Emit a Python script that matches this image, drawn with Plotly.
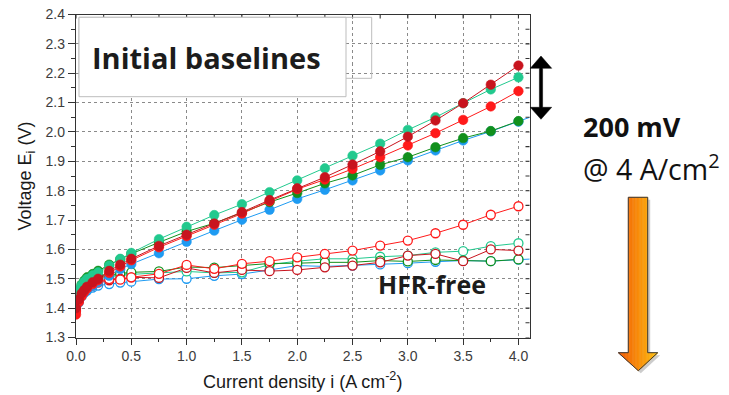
import plotly.graph_objects as go

# Current density steps (A/cm^2)
current = [0.0, 0.025, 0.05, 0.075, 0.1, 0.15, 0.2, 0.3, 0.4, 0.5,
           0.75, 1.0, 1.25, 1.5, 1.75, 2.0, 2.25, 2.5, 2.75, 3.0,
           3.25, 3.5, 3.75, 4.0]
current_ext = current + [4.25]

# Cell voltage (V), initial polarization curves
v_blue = [1.410, 1.430, 1.445, 1.455, 1.463, 1.475, 1.488, 1.510, 1.533, 1.550,
          1.587, 1.626, 1.664, 1.701, 1.735, 1.772, 1.803, 1.835, 1.869, 1.903,
          1.937, 1.971, 2.002, 2.035, 2.070]
v_green = [1.435, 1.460, 1.480, 1.494, 1.505, 1.516, 1.527, 1.548, 1.566, 1.585,
           1.624, 1.661, 1.689, 1.724, 1.761, 1.792, 1.825, 1.852, 1.888, 1.914,
           1.948, 1.979, 2.003, 2.037]
v_teal = [1.440, 1.462, 1.478, 1.490, 1.500, 1.512, 1.522, 1.545, 1.568, 1.588,
          1.635, 1.677, 1.717, 1.754, 1.795, 1.835, 1.876, 1.919, 1.960, 2.007,
          2.050, 2.098, 2.145, 2.186]
v_red = [1.378, 1.420, 1.440, 1.455, 1.467, 1.482, 1.495, 1.520, 1.542, 1.563,
         1.607, 1.645, 1.684, 1.722, 1.764, 1.805, 1.838, 1.874, 1.914, 1.954,
         1.996, 2.041, 2.087, 2.139]
v_darkred = [1.400, 1.430, 1.450, 1.462, 1.473, 1.488, 1.500, 1.527, 1.548, 1.568,
             1.612, 1.650, 1.688, 1.727, 1.768, 1.808, 1.846, 1.889, 1.934, 1.984,
             2.039, 2.098, 2.161, 2.226]

# HFR-free voltages (V)
h_blue = [1.390, 1.420, 1.440, 1.452, 1.460, 1.470, 1.477, 1.482, 1.487, 1.490,
          1.499, 1.500, 1.510, 1.516, 1.530, 1.545, 1.542, 1.545, 1.549, 1.553,
          1.558, 1.562, 1.560, 1.565, 1.570]
h_green = [1.420, 1.450, 1.470, 1.483, 1.490, 1.500, 1.508, 1.513, 1.518, 1.522,
           1.525, 1.540, 1.538, 1.546, 1.552, 1.553, 1.556, 1.556, 1.562, 1.559,
           1.564, 1.562, 1.560, 1.566]
h_teal = [1.420, 1.445, 1.462, 1.475, 1.485, 1.495, 1.503, 1.508, 1.512, 1.515,
          1.520, 1.525, 1.520, 1.522, 1.548, 1.560, 1.568, 1.568, 1.575, 1.579,
          1.590, 1.594, 1.611, 1.621]
h_red = [1.390, 1.425, 1.445, 1.458, 1.467, 1.477, 1.487, 1.499, 1.497, 1.505,
         1.517, 1.547, 1.534, 1.551, 1.560, 1.573, 1.585, 1.596, 1.613, 1.630,
         1.655, 1.684, 1.718, 1.747]
h_darkred = [1.400, 1.430, 1.448, 1.460, 1.470, 1.480, 1.490, 1.495, 1.500, 1.505,
             1.503, 1.537, 1.520, 1.530, 1.526, 1.530, 1.539, 1.545, 1.556, 1.579,
             1.585, 1.560, 1.600, 1.596]

x_ticks = [0.0, 0.5, 1.0, 1.5, 2.0, 2.5, 3.0, 3.5, 4.0]
y_ticks = [1.3, 1.4, 1.5, 1.6, 1.7, 1.8, 1.9, 2.0, 2.1, 2.2, 2.3, 2.4]

BLUE = "#1E9BF2"
GREEN = "#11901C"
TEAL = "#22C98E"
RED = "#FF1A1A"
DARKRED = "#C8141E"

W, H = 729, 395
X0, X1 = 76.0, 529.5     # plot area, pixels
Y0, Y1 = 14.5, 337.5


def px(x):
    return x / W


def py(y):
    return 1 - y / H


fig = go.Figure()

open_series = [
    (current_ext, h_blue, BLUE),
    (current, h_teal, TEAL),
    (current, h_green, GREEN),
    (current, h_darkred, DARKRED),
    (current, h_red, RED),
]
for xs, ys, col in open_series:
    fig.add_trace(go.Scatter(
        x=xs, y=ys, mode="lines+markers",
        line=dict(color=col, width=1),
        marker=dict(symbol="circle", size=9, color="white",
                    line=dict(width=1.3, color=col)),
        showlegend=False, hoverinfo="skip",
    ))

filled_series = [
    (current_ext, v_blue, BLUE),
    (current, v_green, GREEN),
    (current, v_red, RED),
    (current, v_teal, TEAL),
    (current, v_darkred, DARKRED),
]
for xs, ys, col in filled_series:
    fig.add_trace(go.Scatter(
        x=xs, y=ys, mode="lines+markers",
        line=dict(color=col, width=1),
        marker=dict(symbol="circle", size=9.5, color=col,
                    line=dict(width=0.6, color=col)),
        showlegend=False, hoverinfo="skip",
    ))

axis_font = dict(family="Liberation Sans, Arial", size=14, color="#3c3c3c")
title_font = dict(family="Liberation Sans, Arial", size=18, color="#1a1a1a")

fig.update_layout(
    width=W, height=H,
    margin=dict(l=0, r=0, t=0, b=0),
    paper_bgcolor="white", plot_bgcolor="white",
    xaxis=dict(
        domain=[px(X0), px(X1)], range=[0, 4.1], anchor="y",
        tickmode="linear", tick0=x_ticks[0], dtick=x_ticks[1] - x_ticks[0],
        tickformat=".1f",
        ticks="outside", ticklen=6, tickwidth=1.2, tickcolor="#333",
        minor=dict(dtick=0.25, ticks="outside", ticklen=3.5, tickcolor="#333"),
        showgrid=True, gridcolor="#8a8a8a", griddash="dot", gridwidth=1,
        showline=True, linecolor="#333", linewidth=1.3, mirror=True,
        zeroline=False, tickfont=axis_font, automargin=False,
        title=dict(text="Current density i (A cm<sup>-2</sup>)", font=title_font,
                   standoff=11),
    ),
    yaxis=dict(
        domain=[py(Y1), py(Y0)], range=[1.3, 2.4], anchor="x",
        tickmode="linear", tick0=y_ticks[0], dtick=y_ticks[1] - y_ticks[0],
        tickformat=".1f",
        ticks="outside", ticklen=7, tickwidth=1.2, tickcolor="#333",
        minor=dict(dtick=0.05, ticks="outside", ticklen=4, tickcolor="#333"),
        showgrid=True, gridcolor="#8a8a8a", griddash="dot", gridwidth=1,
        showline=True, linecolor="#333", linewidth=1.3, mirror=True,
        zeroline=False, tickfont=axis_font, automargin=False,
        title=dict(text="Voltage E<sub>i</sub> (V)", font=title_font, standoff=9),
    ),
)

# inward ticks on the top and right frame (major + halfway minor)
x_all = sorted(set(x_ticks + [(a + b) / 2 for a, b in zip(x_ticks[:-1], x_ticks[1:])]))
for v in x_all:
    fig.add_shape(type="line", xref="x", yref="paper", x0=v, x1=v,
                  y0=py(Y0), y1=py(Y0 + 4), line=dict(color="#333", width=1.1))
y_all = sorted(set(y_ticks + [(a + b) / 2 for a, b in zip(y_ticks[:-1], y_ticks[1:])]))
for v in y_all:
    fig.add_shape(type="line", xref="paper", yref="y", x0=px(X1), x1=px(X1 - 4),
                  y0=v, y1=v, line=dict(color="#333", width=1.1))

# empty side box outline, then the white title box over it
fig.add_shape(type="rect", xref="paper", yref="paper",
              x0=px(79), y0=py(17.3), x1=px(371.7), y1=py(78.3),
              line=dict(color="#bdbdbd", width=1), fillcolor="rgba(0,0,0,0)", layer="above")
fig.add_shape(type="rect", xref="paper", yref="paper",
              x0=px(79), y0=py(17.3), x1=px(346), y1=py(96.7),
              line=dict(color="#bdbdbd", width=1), fillcolor="white", layer="above")


def path_of(points):
    return "M" + " L".join(f"{px(x):.5f},{py(y):.5f}" for x, y in points) + " Z"


# black double-headed arrow
dbl = [(541, 56), (551.7, 68.3), (542.6, 68.3), (542.6, 107.3), (551.7, 107.3),
       (541, 119.3), (530.3, 107.3), (539.4, 107.3), (539.4, 68.3), (530.3, 68.3)]
fig.add_shape(type="path", xref="paper", yref="paper", path=path_of(dbl),
              fillcolor="black", line=dict(color="black", width=0.5), layer="above")

# orange block arrow pointing down, shaded left-to-right
SL, SR, ST, HB = 628.3, 647.7, 197.3, 352.7    # shaft left/right/top, head base
HL, HR, TX, TY = 618.3, 657.7, 638.3, 370.7    # head left/right, tip
outline = [(SL, ST), (SR, ST), (SR, HB), (HR, HB), (TX, TY), (HL, HB), (SL, HB)]
fig.add_shape(type="path", xref="paper", yref="paper",
              path=path_of([(x + 2.5, y + 2.5) for x, y in outline]),
              fillcolor="rgba(110,110,110,0.35)", line=dict(width=0), layer="above")


def head_y(x):
    return HB + (TY - HB) * (1 - abs(x - TX) / (TX - HL))


def mix(t):
    c0, c1 = (242, 88, 6), (255, 192, 16)
    return "rgb(%d,%d,%d)" % tuple(round(a + (b - a) * t) for a, b in zip(c0, c1))


N = 28
edges = [HL + (HR - HL) * i / N for i in range(N + 1)]
for xa, xb in zip(edges[:-1], edges[1:]):
    col = mix(((xa + xb) / 2 - HL) / (HR - HL))
    top = ST if (xa >= SL - 0.01 and xb <= SR + 0.01) else HB
    pts = [(xa, top), (xb, top), (xb, head_y(xb))]
    if xa < TX < xb:
        pts.append((TX, TY))
    pts.append((xa, head_y(xa)))
    if xa < SL < xb:
        pts = [(SL, ST), (xb, ST), (xb, head_y(xb)), (xa, head_y(xa)), (xa, HB), (SL, HB)]
    if xa < SR < xb:
        pts = [(xa, ST), (SR, ST), (SR, HB), (xb, HB), (xb, head_y(xb)), (xa, head_y(xa))]
    fig.add_shape(type="path", xref="paper", yref="paper", path=path_of(pts),
                  fillcolor=col, line=dict(color=col, width=0.6), layer="above")

fig.add_shape(type="path", xref="paper", yref="paper", path=path_of(outline),
              fillcolor="rgba(0,0,0,0)", line=dict(color="#3a3a3a", width=1), layer="above")

label_font = "Open Sans, Noto Sans, sans-serif"
fig.add_annotation(x=px(90), y=py(57), xref="paper", yref="paper",
                   text="<b>Initial baselines</b>",
                   showarrow=False, xanchor="left", yanchor="middle",
                   font=dict(family=label_font, size=29, color="#1c1c1c"))
fig.add_annotation(x=px(376), y=py(284), xref="paper", yref="paper",
                   text="<b>HFR-free</b>",
                   showarrow=False, xanchor="left", yanchor="middle",
                   font=dict(family=label_font, size=25, color="#1c1c1c"))
fig.add_annotation(x=px(581), y=py(127), xref="paper", yref="paper",
                   text="<b>200 mV</b>",
                   showarrow=False, xanchor="left", yanchor="middle",
                   font=dict(family=label_font, size=27, color="#111"))
fig.add_annotation(x=px(581), y=py(167), xref="paper", yref="paper",
                   text="@ 4 A/cm<sup>2</sup>",
                   showarrow=False, xanchor="left", yanchor="middle",
                   font=dict(family=label_font, size=28.5, color="#111"))

fig.write_html("out.html")
